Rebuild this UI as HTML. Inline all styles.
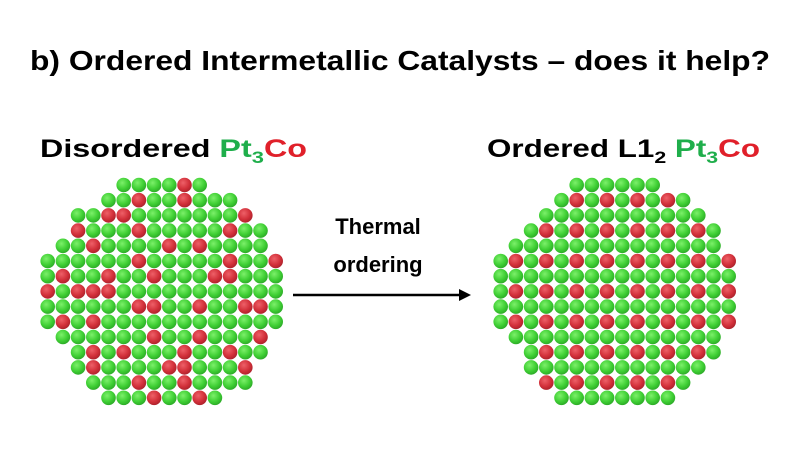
<!DOCTYPE html>
<html><head><meta charset="utf-8"><style>html,body{margin:0;padding:0;background:#fff}svg{display:block}</style></head>
<body>
<svg id="s" width="800" height="450" xmlns="http://www.w3.org/2000/svg" font-family="Liberation Sans, sans-serif" font-weight="bold">
<defs>
<radialGradient id="g" cx="0.4" cy="0.35" r="0.7"><stop offset="0" stop-color="#7cf06a"/><stop offset="0.6" stop-color="#3fcf34"/><stop offset="1" stop-color="#2aa526"/></radialGradient>
<radialGradient id="r" cx="0.4" cy="0.35" r="0.7"><stop offset="0" stop-color="#ee6068"/><stop offset="0.6" stop-color="#d2303a"/><stop offset="1" stop-color="#a8202a"/></radialGradient>
<marker id="ah" markerWidth="12" markerHeight="12" refX="9" refY="6" orient="auto" markerUnits="userSpaceOnUse"><path d="M0,0 L12,6 L0,12 z" fill="#000"/></marker>
</defs>
<text x="400" y="70" text-anchor="middle" font-size="28" textLength="740" lengthAdjust="spacingAndGlyphs" fill="#000">b) Ordered Intermetallic Catalysts – does it help?</text>
<text x="40" y="157" font-size="25" fill="#000" textLength="267" lengthAdjust="spacingAndGlyphs">Disordered <tspan fill="#1fae4b">Pt</tspan><tspan fill="#1fae4b" font-size="17" dy="6">3</tspan><tspan fill="#e0202a" dy="-6">Co</tspan></text>
<text x="487" y="157" font-size="25" fill="#000" textLength="273" lengthAdjust="spacingAndGlyphs">Ordered L1<tspan font-size="17" dy="6">2</tspan><tspan fill="#1fae4b" dy="-6"> Pt</tspan><tspan fill="#1fae4b" font-size="17" dy="6">3</tspan><tspan fill="#e0202a" dy="-6">Co</tspan></text>
<text x="378" y="234" text-anchor="middle" font-size="22" fill="#000">Thermal</text>
<text x="378" y="272" text-anchor="middle" font-size="22" fill="#000">ordering</text>
<line x1="293" y1="295" x2="468" y2="295" stroke="#000" stroke-width="2.5" marker-end="url(#ah)"/>
<g id="L"></g><g id="R"></g>
</svg>
<script>
var ns="http://www.w3.org/2000/svg";
var rowsL=[[5,10,[9]],[4,12,[6,9]],[2,13,[4,5,13]],[2,14,[2,6,12]],[1,14,[3,8,10]],[0,15,[6,12,15]],[0,15,[1,4,7,11,12]],[0,15,[0,2,3,4]],[0,15,[6,7,10,13,14]],[0,15,[1,3]],[1,14,[7,10,14]],[2,14,[3,5,9,12]],[2,13,[3,8,9,13]],[3,13,[6,9]],[4,11,[7,10]]];
var odd=[1,3,5,7,9,11,13,15];
var rowsR=[[5,10,[]],[4,12,[5,7,9,11]],[3,13,[]],[2,14,[3,5,7,9,11,13]],[1,14,[]],[0,15,odd],[0,15,[]],[0,15,odd],[0,15,[]],[0,15,odd],[1,14,[]],[2,14,[3,5,7,9,11,13]],[2,13,[]],[3,12,[3,5,7,9,11]],[4,11,[]]];
function draw(id,rows,x0){var g=document.getElementById(id);
rows.forEach(function(r,i){for(var c=r[0];c<=r[1];c++){var e=document.createElementNS(ns,"circle");
e.setAttribute("cx",x0+c*15.2);e.setAttribute("cy",185+i*15.2);e.setAttribute("r",7.3);
e.setAttribute("fill",r[2].indexOf(c)>=0?"url(#r)":"url(#g)");g.appendChild(e);}});}
draw("L",rowsL,47.7);draw("R",rowsR,500.7);
</script>
</body></html>
